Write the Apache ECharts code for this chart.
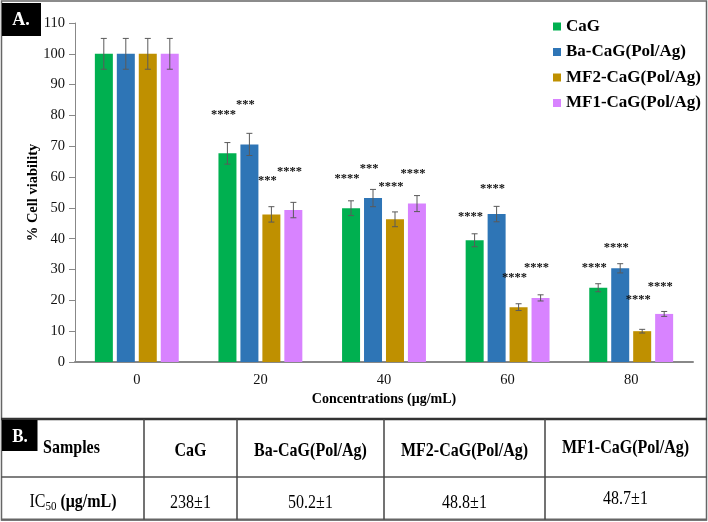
<!DOCTYPE html>
<html>
<head>
<meta charset="utf-8">
<script src="https://cdn.jsdelivr.net/npm/echarts@6/dist/echarts.min.js"></script>
<style>
html,body{margin:0;padding:0;background:#fff;}
#chart{width:708px;height:522px;}
</style>
</head>
<body>
<div id="chart"></div>
<script>
// ---- Data ----
var categories = ['0', '20', '40', '60', '80'];
var seriesNames = ['CaG', 'Ba-CaG(Pol/Ag)', 'MF2-CaG(Pol/Ag)', 'MF1-CaG(Pol/Ag)'];
var cagValues = [100, 67.7, 49.9, 39.5, 24.1];
var cagErrors = [5, 3.5, 2.4, 2.1, 1.3];
var baValues = [100, 70.6, 53.2, 48.0, 30.4];
var baErrors = [5, 3.6, 2.8, 2.5, 1.5];
var mf2Values = [100, 47.9, 46.3, 17.8, 10.0];
var mf2Errors = [5, 2.5, 2.4, 1.1, 0.6];
var mf1Values = [100, 49.3, 51.4, 20.8, 15.6];
var mf1Errors = [5, 2.5, 2.6, 1.0, 0.8];
var cagStars = ['', '****', '****', '****', '****'];
var cagStarY = [null, 80.8, 60.1, 47.7, 31.1];
var baStars = ['', '***', '***', '****', '****'];
var baStarY = [null, 84.0, 63.4, 56.9, 37.6];
var mf2Stars = ['', '***', '****', '****', '****'];
var mf2StarY = [null, 59.6, 57.4, 28.0, 20.9];
var mf1Stars = ['', '****', '****', '****', '****'];
var mf1StarY = [null, 62.3, 61.7, 31.1, 24.9];
var yTicks = [0, 10, 20, 30, 40, 50, 60, 70, 80, 90, 100, 110];
var tableHeaders = ['Samples', 'CaG', 'Ba-CaG(Pol/Ag)', 'MF2-CaG(Pol/Ag)', 'MF1-CaG(Pol/Ag)'];
var ic50Values = ['238±1', '50.2±1', '48.8±1', '48.7±1'];

// ---- Styles ----
var colors = ['#00B050', '#2E75B6', '#BF9000', '#D883FF'];
var FONT = "'Liberation Serif', 'Times New Roman', serif";
var BAR_W = 18, BAR_STEP = 22;
var valuesList = [cagValues, baValues, mf2Values, mf1Values];
var errorsList = [cagErrors, baErrors, mf2Errors, mf1Errors];
var starsList = [cagStars, baStars, mf2Stars, mf1Stars];
var starYList = [cagStarY, baStarY, mf2StarY, mf1StarY];

var series = [];
seriesNames.forEach(function (name, i) {
  series.push({
    name: name,
    type: 'bar',
    data: valuesList[i],
    barWidth: BAR_W,
    barGap: '22%',
    itemStyle: { color: colors[i] },
    z: 2
  });
});
seriesNames.forEach(function (name, i) {
  var vals = valuesList[i], errs = errorsList[i];
  var data = categories.map(function (c, k) {
    return [k, vals[k] - errs[k], vals[k] + errs[k], starYList[i][k] == null ? vals[k] : starYList[i][k]];
  });
  series.push({
    name: name + ' err',
    type: 'custom',
    data: data,
    encode: { x: 0, y: [1, 2, 3] },
    z: 5,
    silent: true,
    renderItem: function (params, api) {
      var k = api.value(0);
      var lo = api.coord([k, api.value(1)]);
      var hi = api.coord([k, api.value(2)]);
      var st = api.coord([k, api.value(3)]);
      var dx = (i - 1.5) * BAR_STEP;
      var x = lo[0] + dx;
      var cap = 3;
      var lineStyle = { stroke: '#5a5a5a', lineWidth: 1 };
      var children = [
        { type: 'line', shape: { x1: x, y1: lo[1], x2: x, y2: hi[1] }, style: lineStyle },
        { type: 'line', shape: { x1: x - cap, y1: lo[1], x2: x + cap, y2: lo[1] }, style: lineStyle },
        { type: 'line', shape: { x1: x - cap, y1: hi[1], x2: x + cap, y2: hi[1] }, style: lineStyle }
      ];
      var s = starsList[i][params.dataIndex];
      if (s) {
        children.push({
          type: 'text',
          x: x - 4, y: st[1] + 2,
          style: { text: s, fill: '#111', font: 'bold 12.5px ' + FONT, align: 'center', verticalAlign: 'middle' }
        });
      }
      return { type: 'group', children: children };
    }
  });
});

// ---- Table & panel graphics ----
var colEdges = [2, 144, 237, 384, 545, 706];
var tableTop = 419, rowMid = 477, tableBottom = 519.5;
var graphics = [];
graphics.push({ type: 'rect', shape: { x: 1.5, y: 1, width: 705, height: 519 }, style: { fill: 'none', stroke: '#666', lineWidth: 1.5 }, z: 10 });
graphics.push({ type: 'line', shape: { x1: 1, y1: tableTop, x2: 707, y2: tableTop }, style: { stroke: '#333', lineWidth: 2.5 }, z: 10 });
graphics.push({ type: 'line', shape: { x1: 1, y1: rowMid, x2: 707, y2: rowMid }, style: { stroke: '#555', lineWidth: 1.5 }, z: 10 });
graphics.push({ type: 'line', shape: { x1: 1, y1: tableBottom, x2: 707, y2: tableBottom }, style: { stroke: '#666', lineWidth: 2 }, z: 10 });
for (var c = 1; c < colEdges.length - 1; c++) {
  graphics.push({ type: 'line', shape: { x1: colEdges[c], y1: tableTop, x2: colEdges[c], y2: tableBottom }, style: { stroke: '#444', lineWidth: 1.5 }, z: 10 });
}
tableHeaders.forEach(function (h, c) {
  var cx = (colEdges[c] + colEdges[c + 1]) / 2;
  graphics.push({
    type: 'text', x: c === 0 ? 43 : cx, y: c === 0 ? 448 : (c === 4 ? 448 : 451), scaleY: 1.2, z: 11,
    style: { text: h, fill: '#000', font: 'bold 16px ' + FONT, align: c === 0 ? 'left' : 'center', verticalAlign: 'middle' }
  });
});
graphics.push({
  type: 'text', x: 73, y: 502, scaleY: 1.2, z: 11,
  style: {
    text: '{a|IC}{b|50}{c| (μg/mL)}', align: 'center', verticalAlign: 'middle', fill: '#000',
    rich: {
      a: { fontFamily: FONT, fontSize: 16, fill: '#000' },
      b: { fontFamily: FONT, fontSize: 11, fill: '#000', padding: [8, 0, 0, 0] },
      c: { fontFamily: FONT, fontSize: 16, fontWeight: 'bold', fill: '#000' }
    }
  }
});
ic50Values.forEach(function (v, k) {
  var c = k + 1;
  var cx = (colEdges[c] + colEdges[c + 1]) / 2;
  graphics.push({
    type: 'text', x: cx, y: c === 4 ? 498.5 : 502.5, scaleY: 1.2, z: 11,
    style: { text: v, fill: '#000', font: '16px ' + FONT, align: 'center', verticalAlign: 'middle' }
  });
});
graphics.push({ type: 'rect', shape: { x: 2, y: 3, width: 39, height: 33 }, style: { fill: '#000' }, z: 12 });
graphics.push({ type: 'text', x: 21, y: 20, scaleY: 1.1, z: 13, style: { text: 'A.', fill: '#fff', font: 'bold 18px ' + FONT, align: 'center', verticalAlign: 'middle' } });
graphics.push({ type: 'rect', shape: { x: 2, y: 420, width: 35.5, height: 31 }, style: { fill: '#000' }, z: 12 });
graphics.push({ type: 'text', x: 20, y: 437, scaleY: 1.1, z: 13, style: { text: 'B.', fill: '#fff', font: 'bold 17px ' + FONT, align: 'center', verticalAlign: 'middle' } });

var option = {
  backgroundColor: '#fff',
  animation: false,
  textStyle: { fontFamily: FONT },
  grid: { left: 75, right: 15, top: 23, bottom: 160, containLabel: false },
  legend: {
    data: seriesNames,
    orient: 'vertical',
    left: 548, top: 13,
    icon: 'rect',
    itemWidth: 8, itemHeight: 8, itemGap: 8.5,
    textStyle: { fontFamily: FONT, fontSize: 17, fontWeight: 'bold', color: '#000', lineHeight: 17 }
  },
  xAxis: {
    type: 'category',
    data: categories,
    name: 'Concentrations (μg/mL)',
    nameLocation: 'middle',
    nameGap: 30,
    nameMoveOverlap: false,
    nameTextStyle: { fontFamily: FONT, fontSize: 14, fontWeight: 'bold', color: '#000' },
    axisLine: { lineStyle: { color: '#888', width: 2 } },
    axisTick: { show: false },
    axisLabel: { fontFamily: FONT, fontSize: 14.5, color: '#111', margin: 11 }
  },
  yAxis: {
    type: 'value',
    min: yTicks[0], max: yTicks[yTicks.length - 1], interval: 10,
    name: '% Cell viability',
    nameLocation: 'middle',
    nameGap: 34,
    nameMoveOverlap: false,
    nameTextStyle: { fontFamily: FONT, fontSize: 14.5, fontWeight: 'bold', color: '#000' },
    axisLine: { show: true, lineStyle: { color: '#888', width: 1 } },
    axisTick: { show: true, length: 6, lineStyle: { color: '#888' } },
    splitLine: { show: false },
    axisLabel: { fontFamily: FONT, fontSize: 14.5, color: '#111', margin: 10 }
  },
  series: series,
  graphic: { elements: graphics }
};

var chart = echarts.init(document.getElementById('chart'), null, { renderer: 'canvas' });
chart.setOption(option);
</script>
</body>
</html>
